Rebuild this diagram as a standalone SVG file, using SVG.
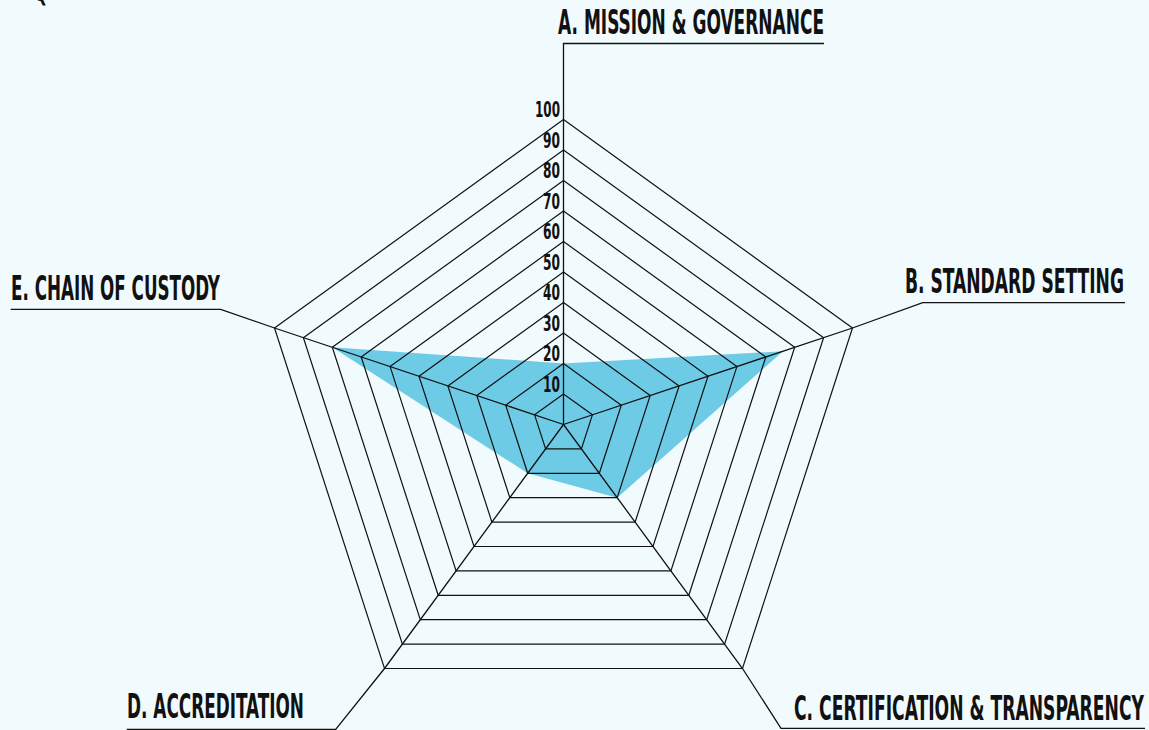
<svg xmlns="http://www.w3.org/2000/svg" width="1149" height="730" viewBox="0 0 1149 730">
<style>
.bg{fill:#f1fafd}
.grid{fill:none;stroke:#111;stroke-width:1.2;stroke-linejoin:miter}
.axis{fill:none;stroke:#111;stroke-width:1.3}
.data{fill:#6ecbe6;stroke:none}
.lbl{font-family:"Liberation Sans Narrow","DejaVu Sans Condensed","Roboto Condensed","Liberation Sans",sans-serif;font-weight:bold;fill:#111;font-size:19px}
.tick{font-family:"Liberation Sans Narrow","DejaVu Sans Condensed","Liberation Sans",sans-serif;font-weight:bold;fill:#111;font-size:13px;text-anchor:end}
</style>
<rect class="bg" x="0" y="0" width="1149" height="730"/>
<text class="lbl" transform="translate(33,1) scale(1,1.75)" font-size="20">Q</text>
<g id="data-series">
<polygon class="data" points="563.5,363.5 783.1,351.2 617.2,497.7 527.7,473.3 332.3,347.3"/>
</g>
<g id="grid">
<polygon class="grid" points="563.5,394 592.4,414.85 581.4,448.9 545.6,448.9 534.6,414.85"/>
<polygon class="grid" points="563.5,363.5 621.3,405.2 599.3,473.3 527.7,473.3 505.7,405.2"/>
<polygon class="grid" points="563.5,333 650.2,395.55 617.2,497.7 509.8,497.7 476.8,395.55"/>
<polygon class="grid" points="563.5,302.5 679.1,385.9 635.1,522.1 491.9,522.1 447.9,385.9"/>
<polygon class="grid" points="563.5,272 708,376.25 653,546.5 474,546.5 419,376.25"/>
<polygon class="grid" points="563.5,241.5 736.9,366.6 670.9,570.9 456.1,570.9 390.1,366.6"/>
<polygon class="grid" points="563.5,211 765.8,356.95 688.8,595.3 438.2,595.3 361.2,356.95"/>
<polygon class="grid" points="563.5,180.5 794.7,347.3 706.7,619.7 420.3,619.7 332.3,347.3"/>
<polygon class="grid" points="563.5,150 823.6,337.65 724.6,644.1 402.4,644.1 303.4,337.65"/>
<polygon class="grid" points="563.5,119.5 852.5,328 742.5,668.5 384.5,668.5 274.5,328"/>
</g>
<g id="connectors">
<path class="axis" d="M563.5 424.5 V43.5 H824"/>
<path class="axis" d="M563.5 424.5 L852.5 328 L922.7 302.7 H1125"/>
<path class="axis" d="M563.5 424.5 L742.5 668.5 L781 728.3 H1145"/>
<path class="axis" d="M563.5 424.5 L384.5 668.5 L335.7 729.3 H126.7"/>
<path class="axis" d="M563.5 424.5 L274.5 328 L220.7 309.3 H10.7"/>
</g>
<g id="scale">
<text class="tick" transform="translate(560,117) scale(1,1.6)" textLength="25" lengthAdjust="spacingAndGlyphs">100</text>
<text class="tick" transform="translate(560,147.5) scale(1,1.6)" textLength="17" lengthAdjust="spacingAndGlyphs">90</text>
<text class="tick" transform="translate(560,178) scale(1,1.6)" textLength="17" lengthAdjust="spacingAndGlyphs">80</text>
<text class="tick" transform="translate(560,208.5) scale(1,1.6)" textLength="17" lengthAdjust="spacingAndGlyphs">70</text>
<text class="tick" transform="translate(560,239) scale(1,1.6)" textLength="17" lengthAdjust="spacingAndGlyphs">60</text>
<text class="tick" transform="translate(560,269.5) scale(1,1.6)" textLength="17" lengthAdjust="spacingAndGlyphs">50</text>
<text class="tick" transform="translate(560,300) scale(1,1.6)" textLength="17" lengthAdjust="spacingAndGlyphs">40</text>
<text class="tick" transform="translate(560,330.5) scale(1,1.6)" textLength="17" lengthAdjust="spacingAndGlyphs">30</text>
<text class="tick" transform="translate(560,361) scale(1,1.6)" textLength="17" lengthAdjust="spacingAndGlyphs">20</text>
<text class="tick" transform="translate(560,391.5) scale(1,1.6)" textLength="17" lengthAdjust="spacingAndGlyphs">10</text>
</g>
<g id="node-a"><text class="lbl" transform="translate(558,34) scale(1,1.75)" textLength="266" lengthAdjust="spacingAndGlyphs">A. MISSION &amp; GOVERNANCE</text></g>
<g id="node-b"><text class="lbl" transform="translate(905,293) scale(1,1.75)" textLength="219" lengthAdjust="spacingAndGlyphs">B. STANDARD SETTING</text></g>
<g id="node-c"><text class="lbl" transform="translate(794,720) scale(1,1.75)" textLength="350" lengthAdjust="spacingAndGlyphs">C. CERTIFICATION &amp; TRANSPARENCY</text></g>
<g id="node-d"><text class="lbl" transform="translate(127,718) scale(1,1.75)" textLength="177" lengthAdjust="spacingAndGlyphs">D. ACCREDITATION</text></g>
<g id="node-e"><text class="lbl" transform="translate(11,300) scale(1,1.75)" textLength="209" lengthAdjust="spacingAndGlyphs">E. CHAIN OF CUSTODY</text></g>
</svg>
